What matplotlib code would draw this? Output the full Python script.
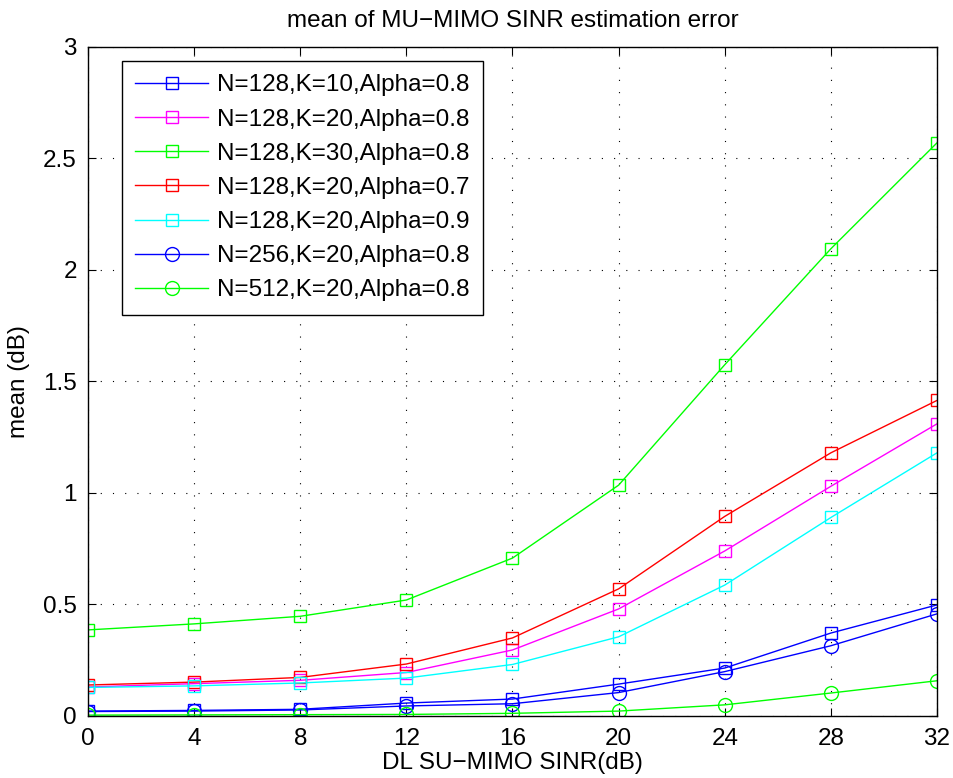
import numpy as np
import matplotlib.pyplot as plt

plt.rcParams['font.family'] = ['Liberation Sans', 'DejaVu Sans']

snr = [0, 4, 8, 12, 16, 20, 24, 28, 32]

n128_k10_a08 = [0.022, 0.025, 0.03, 0.058, 0.076, 0.143, 0.215, 0.372, 0.498]
n128_k20_a08 = [0.13, 0.145, 0.16, 0.195, 0.296, 0.48, 0.74, 1.03, 1.31]
n128_k30_a08 = [0.386, 0.413, 0.447, 0.52, 0.708, 1.035, 1.575, 2.095, 2.57]
n128_k20_a07 = [0.139, 0.152, 0.173, 0.233, 0.35, 0.57, 0.895, 1.18, 1.415]
n128_k20_a09 = [0.128, 0.135, 0.148, 0.17, 0.231, 0.355, 0.587, 0.89, 1.18]
n256_k20_a08 = [0.02, 0.022, 0.027, 0.045, 0.055, 0.105, 0.199, 0.315, 0.458]
n512_k20_a08 = [0.004, 0.005, 0.006, 0.007, 0.012, 0.022, 0.05, 0.103, 0.158]

labels = ["N=128,K=10,Alpha=0.8", "N=128,K=20,Alpha=0.8", "N=128,K=30,Alpha=0.8",
          "N=128,K=20,Alpha=0.7", "N=128,K=20,Alpha=0.9", "N=256,K=20,Alpha=0.8",
          "N=512,K=20,Alpha=0.8"]

fs = 17.5

fig = plt.figure(figsize=(9.54, 7.78), dpi=100)
ax = fig.add_axes([0.0922, 0.0797, 0.890, 0.860])

series = [(n128_k10_a08, "#0000ff", "s"), (n128_k20_a08, "#ff00ff", "s"),
          (n128_k30_a08, "#00ff00", "s"), (n128_k20_a07, "#ff0000", "s"),
          (n128_k20_a09, "#00ffff", "s"), (n256_k20_a08, "#0000ff", "o"),
          (n512_k20_a08, "#00ff00", "o")]

for (vals, c, m), lab in zip(series, labels):
    ms = 9 if m == "s" else 10
    ax.plot(snr, vals, color=c, marker=m, markersize=ms, markerfacecolor="none",
            markeredgewidth=1.0, linewidth=1.0, label=lab)

ax.set_xlim(0, 32)
ax.set_ylim(0, 3)
ax.set_xticks(snr)
ax.set_yticks([0, 0.5, 1, 1.5, 2, 2.5, 3])
ax.set_yticklabels(["0", "0.5", "1", "1.5", "2", "2.5", "3"])
ax.grid(True, color="black", linestyle=(0, (1, 10)), linewidth=0.8)
ax.tick_params(direction="in", top=True, right=True, labelsize=fs, length=6)
ax.tick_params(axis="x", pad=9)
ax.tick_params(axis="y", pad=8)
for s in ax.spines.values():
    s.set_linewidth(1.0)

ax.set_xlabel("DL SU\u2212MIMO SINR(dB)", fontsize=fs, labelpad=1)
ax.set_ylabel("mean (dB)", fontsize=fs, labelpad=9)
ax.set_title("mean of MU\u2212MIMO SINR estimation error", fontsize=fs, pad=14)

leg = ax.legend(loc="upper left", bbox_to_anchor=(0.040, 0.979), borderaxespad=0,
                fontsize=fs, fancybox=False, edgecolor="black", framealpha=1,
                borderpad=0.55, labelspacing=0.5, handlelength=3.0, handletextpad=0.35)
leg.get_frame().set_linewidth(1.0)

fig.savefig("out.png", dpi=100)
